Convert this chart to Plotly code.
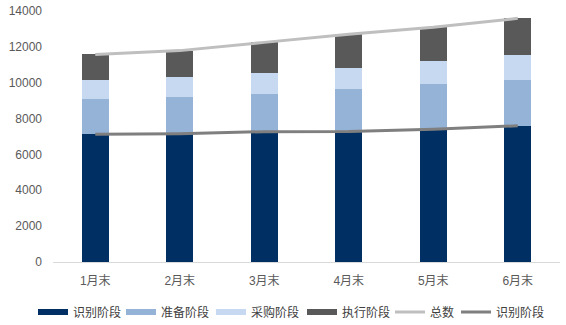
import plotly.graph_objects as go

# Month-end labels
months = ["1月末", "2月末", "3月末", "4月末", "5月末", "6月末"]

# Project counts per stage at each month end
stage_identify = [7120, 7150, 7270, 7280, 7400, 7600]
stage_prepare = [1990, 2070, 2120, 2390, 2530, 2550]
stage_procure = [1020, 1080, 1150, 1170, 1300, 1380]
stage_execute = [1450, 1490, 1710, 1860, 1860, 2060]

total = [a + b + c + d for a, b, c, d in zip(stage_identify, stage_prepare, stage_procure, stage_execute)]

y_ticks = [0, 2000, 4000, 6000, 8000, 10000, 12000, 14000]
y_tick_text = [str(v) for v in y_ticks]

C_IDENT = "#002f63"
C_PREP = "#95b3d7"
C_PROC = "#c6d9f1"
C_EXEC = "#595959"
C_TOTAL = "#bfbfbf"
C_IDLINE = "#7f7f7f"

FONT = "Liberation Sans, Arial, Noto Sans CJK SC, sans-serif"

# Plot-area geometry in pixels (used to place the legend keys)
W, H = 566, 325
M_L, M_R, M_T, M_B = 53, 6, 11, 63
PLOT_W = W - M_L - M_R
PLOT_H = H - M_T - M_B

fig = go.Figure()

bar_series = [
    ("识别阶段", stage_identify, C_IDENT),
    ("准备阶段", stage_prepare, C_PREP),
    ("采购阶段", stage_procure, C_PROC),
    ("执行阶段", stage_execute, C_EXEC),
]

for name, vals, col in bar_series:
    fig.add_trace(go.Bar(
        x=months, y=vals, name=name, marker=dict(color=col, line=dict(width=0)),
        showlegend=False, legendgroup=name,
    ))

fig.add_trace(go.Scatter(
    x=months, y=total, mode="lines", name="总数",
    line=dict(color=C_TOTAL, width=3), showlegend=False, legendgroup="总数",
))
fig.add_trace(go.Scatter(
    x=months, y=stage_identify, mode="lines", name="识别阶段",
    line=dict(color=C_IDLINE, width=3), showlegend=False, legendgroup="识别线",
))

# Legend keys: wide bands for the stacked stages, thin strokes for the lines.
# Each key gets its own legend box so the row spacing can be set per entry.
legend_keys = [
    ("识别阶段", C_IDENT, 6, "识别阶段", 38),
    ("准备阶段", C_PREP, 6, "准备阶段", 126),
    ("采购阶段", C_PROC, 6, "采购阶段", 216),
    ("执行阶段", C_EXEC, 6, "执行阶段", 307),
    ("总数", C_TOTAL, 3, "总数", 395),
    ("识别阶段", C_IDLINE, 3, "识别线", 461),
]

legend_layouts = {}
legend_y = -(312 - (H - M_B)) / PLOT_H
for i, (name, col, w, grp, px) in enumerate(legend_keys):
    lid = "legend" if i == 0 else f"legend{i + 1}"
    fig.add_trace(go.Scatter(
        x=[None], y=[None], mode="lines", name=name,
        line=dict(color=col, width=w), legendgroup=grp, showlegend=True,
        legend=lid,
    ))
    legend_layouts[lid] = dict(
        orientation="h", x=(px - 5 - M_L) / PLOT_W, xanchor="left",
        y=legend_y, yanchor="middle",
        font=dict(size=12, color="#404040"), itemwidth=30,
        bgcolor="rgba(0,0,0,0)",
    )

fig.update_layout(
    width=W, height=H,
    margin=dict(l=M_L, r=M_R, t=M_T, b=M_B, autoexpand=False),
    barmode="stack", bargap=0.68,
    plot_bgcolor="white", paper_bgcolor="white",
    font=dict(family=FONT, size=12, color="#595959"),
    xaxis=dict(
        showgrid=False, showline=True, linecolor="#d9d9d9", linewidth=1,
        ticks="", tickfont=dict(size=12, color="#595959"), ticklabelstandoff=8,
    ),
    yaxis=dict(
        range=[0, 14000], tickvals=y_ticks, ticktext=y_tick_text,
        showgrid=False, zeroline=False,
        showline=False, ticks="", ticklabelstandoff=10,
        tickfont=dict(size=12, color="#595959"),
    ),
    **legend_layouts,
)

fig.write_html("out.html")
